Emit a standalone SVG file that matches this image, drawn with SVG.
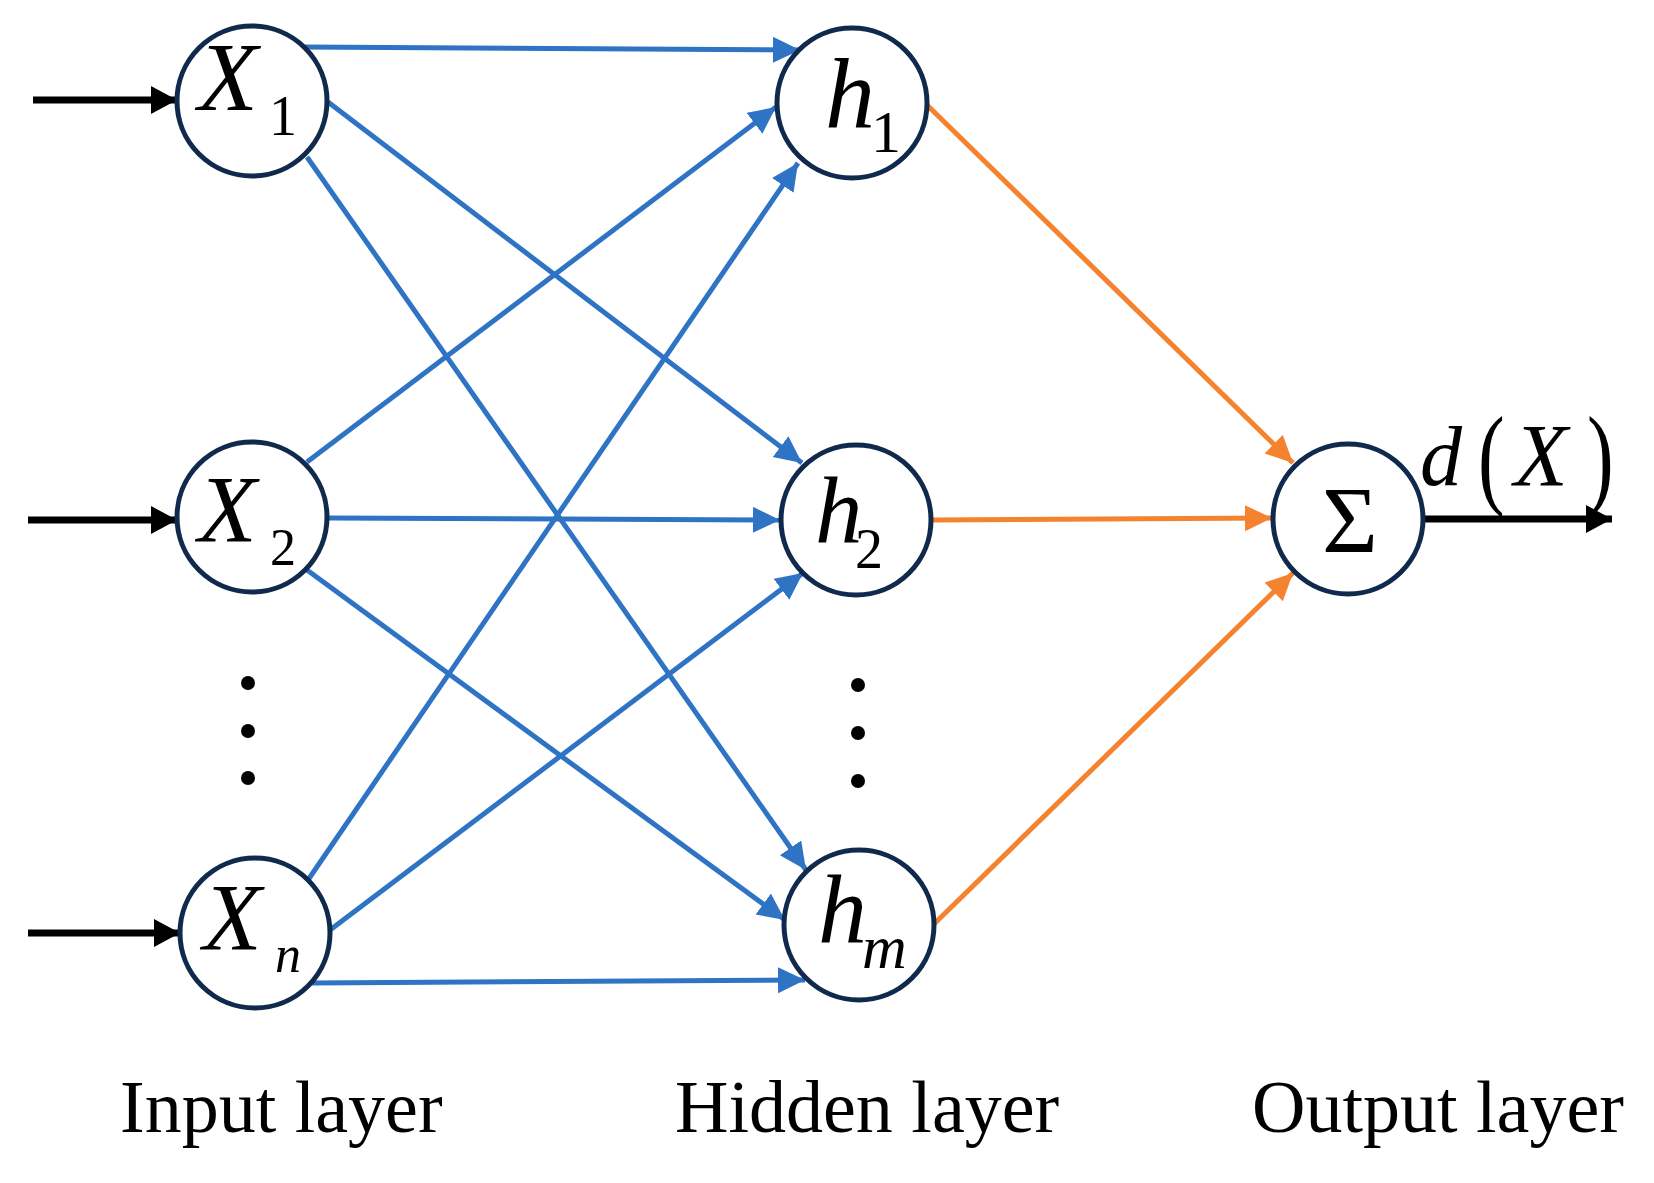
<svg xmlns="http://www.w3.org/2000/svg" width="1654" height="1183" viewBox="0 0 1654 1183">
<style>
.node{fill:#fff;stroke:#0f2a4d;stroke-width:5}
.blue{stroke:#2e73c4;stroke-width:5;fill:none;marker-end:url(#ab)}
.orange{stroke:#f5822f;stroke-width:5;fill:none;marker-end:url(#ao)}
.black{stroke:#000;stroke-width:7;fill:none;marker-end:url(#ak)}
.t{font-family:"Liberation Serif","Times New Roman",serif;fill:#000}
.i{font-style:italic}
.n{font-style:normal}
.lbl{font-family:"Liberation Serif","Times New Roman",serif;font-size:74px;fill:#000}
</style>
<defs>
<marker id="ab" markerUnits="userSpaceOnUse" markerWidth="30" markerHeight="28" refX="27" refY="13" orient="auto"><path d="M0,0 L27,13 L0,26 z" fill="#2e73c4"/></marker>
<marker id="ao" markerUnits="userSpaceOnUse" markerWidth="30" markerHeight="28" refX="27" refY="13" orient="auto"><path d="M0,0 L27,13 L0,26 z" fill="#f5822f"/></marker>
<marker id="ak" markerUnits="userSpaceOnUse" markerWidth="30" markerHeight="30" refX="26" refY="14" orient="auto"><path d="M0,0 L26,14 L0,28 z" fill="#000"/></marker>
</defs>
<rect width="1654" height="1183" fill="#fff"/>
<g id="connectors">
<line class="black" x1="33" y1="100" x2="177" y2="100"/>
<line class="black" x1="28" y1="520" x2="177" y2="520"/>
<line class="black" x1="28" y1="933" x2="180" y2="933"/>
<line class="black" x1="1423" y1="519" x2="1612" y2="519"/>
<line class="blue" x1="303" y1="47" x2="800" y2="50"/>
<line class="blue" x1="328" y1="102" x2="802" y2="463"/>
<line class="blue" x1="307" y1="157" x2="806" y2="870"/>
<line class="blue" x1="307" y1="462" x2="776" y2="107"/>
<line class="blue" x1="329" y1="518" x2="780" y2="520"/>
<line class="blue" x1="307" y1="570" x2="785" y2="920"/>
<line class="blue" x1="308" y1="880" x2="798" y2="163"/>
<line class="blue" x1="330" y1="930" x2="803" y2="573"/>
<line class="blue" x1="312" y1="983" x2="805" y2="980"/>
<line class="orange" x1="927" y1="105" x2="1293" y2="463"/>
<line class="orange" x1="932" y1="520" x2="1272" y2="518"/>
<line class="orange" x1="933" y1="925" x2="1293" y2="573"/>
</g>
<g id="X1"><circle class="node" cx="252" cy="101" r="75"/><text class="t i" x="198" y="110" font-size="98">X<tspan class="n" x="269" y="135" font-size="56">1</tspan></text></g>
<g id="X2"><circle class="node" cx="252" cy="517" r="75"/><text class="t i" x="198" y="542" font-size="96">X<tspan class="n" x="270" y="565" font-size="52">2</tspan></text></g>
<g id="Xn"><circle class="node" cx="255" cy="933" r="75"/><text class="t i" x="203" y="950" font-size="96">X<tspan x="275" y="972" font-size="52">n</tspan></text></g>
<g id="h1"><circle class="node" cx="852" cy="103" r="75"/><text class="t i" x="825" y="127" font-size="100">h<tspan class="n" x="871" y="152" font-size="60">1</tspan></text></g>
<g id="h2"><circle class="node" cx="856" cy="520" r="75"/><text class="t i" x="815" y="543" font-size="95">h<tspan class="n" x="855" y="568" font-size="56">2</tspan></text></g>
<g id="hm"><circle class="node" cx="859" cy="925" r="75"/><text class="t i" x="818" y="942" font-size="98">h<tspan x="862" y="968" font-size="62">m</tspan></text></g>
<g id="sum"><circle class="node" cx="1348" cy="519" r="75"/><text class="t" x="1350" y="553" font-size="96" text-anchor="middle">Σ</text></g>
<g id="dots">
<circle cx="248" cy="683" r="7" fill="#000"/><circle cx="248" cy="731" r="7" fill="#000"/><circle cx="248" cy="778" r="7" fill="#000"/>
<circle cx="858" cy="685" r="7" fill="#000"/><circle cx="858" cy="733" r="7" fill="#000"/><circle cx="858" cy="781" r="7" fill="#000"/>
</g>
<g id="output-label">
<text class="t i" x="1420" y="485" font-size="84">d</text>
<text class="t" transform="translate(1478,494) scale(1,1.4)" font-size="80">(</text>
<text class="t i" x="1514" y="485" font-size="88">X</text>
<text class="t" transform="translate(1587,494) scale(1,1.4)" font-size="80">)</text>
</g>
<g id="layer-labels">
<text class="lbl" x="120" y="1132">Input layer</text>
<text class="lbl" x="675" y="1132">Hidden layer</text>
<text class="lbl" x="1252" y="1132">Output layer</text>
</g>
</svg>
